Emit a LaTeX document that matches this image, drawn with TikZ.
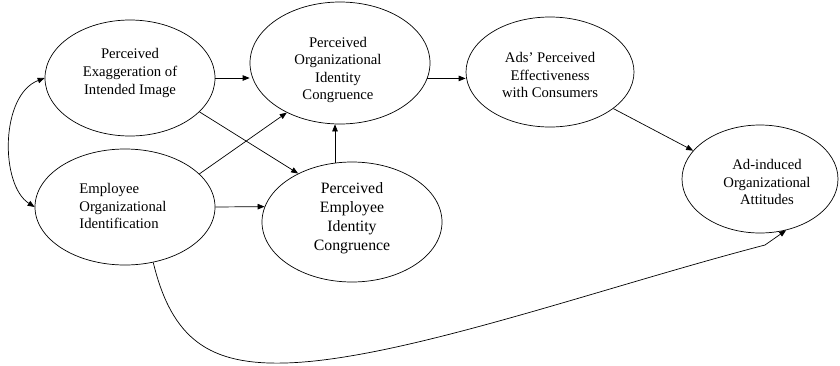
\documentclass[tikz,border=0pt]{standalone}
\usepackage{fontspec}
\setmainfont{Liberation Serif}
\usetikzlibrary{shapes.geometric,arrows.meta}
\begin{document}
\begin{tikzpicture}[x=1pt,y=-1pt,
  ell/.style={ellipse,draw,line width=0.7pt,inner sep=0pt},
  lbl/.style={align=center,font=\fontsize{14.7}{17.6}\selectfont,inner sep=0pt},
  arr/.style={line width=0.7pt,-{Triangle[length=7pt,width=5.5pt]}},
  biarr/.style={line width=0.7pt,{Triangle[length=7pt,width=5.5pt]}-{Triangle[length=7pt,width=5.5pt]}}]
\useasboundingbox (0,0) rectangle (840,365);
% ellipses
\node[ell,minimum width=170pt,minimum height=116pt] (e1) at (130,78) {};
\node[ell,minimum width=180pt,minimum height=116pt] (e2) at (125,207) {};
\node[ell,minimum width=180pt,minimum height=122pt] (e3) at (340,63) {};
\node[ell,minimum width=180pt,minimum height=120pt] (e4) at (352,222) {};
\node[ell,minimum width=168pt,minimum height=110pt] (e5) at (550,72) {};
\node[ell,minimum width=156pt,minimum height=108pt] (e6) at (760,179) {};
% texts
\node[lbl] (t1) at (130,73) {Perceived\\Exaggeration of\\Intended Image};
\node[lbl,align=left] (t2) at (123,206) {Employee\\Organizational\\Identification};
\node[lbl] (t3) at (338,70) {Perceived\\Organizational\\Identity\\Congruence};
\node[lbl,font=\fontsize{15.8}{19}\selectfont] (t4) at (352,218) {Perceived\\Employee\\Identity\\Congruence};
\node[lbl] (t5) at (550,75) {Ads’ Perceived\\Effectiveness\\with Consumers};
\node[lbl] (t6) at (767,182) {Ad-induced\\Organizational\\Attitudes};
% connectors
\draw[arr] (e1.east) -- (e1.east -| e3.west);
\draw[arr] (e1.-26) -- (e4.138);
\draw[arr] (e2.24) -- (e3.-137);
\draw[arr] (e2.east) -- (e4.170);
\draw[arr] (e4.106) -- (e4.106 |- e3.south);
\draw[arr] (e3.-10) -- (e3.-10 -| e5.west);
\draw[arr] (e5.-30) -- (e6.157);
\draw[biarr] (e1.west) .. controls (0,95) and (0,185) .. (e2.west);
\draw[arr] (e2.-63) .. controls (172,340) and (210,365) .. (285,363) .. controls (400,360) and (600,288) .. (765,245) -- (e6.-63);
\end{tikzpicture}
\end{document}
